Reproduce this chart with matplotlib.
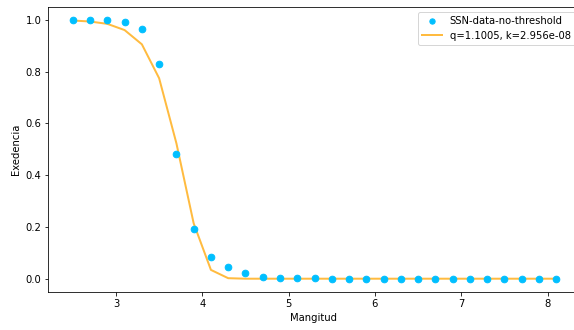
import matplotlib
matplotlib.use("Agg")
import matplotlib.pyplot as plt

# Magnitude bins
magnitudes = [2.5, 2.7, 2.9, 3.1, 3.3, 3.5, 3.7, 3.9, 4.1, 4.3, 4.5, 4.7, 4.9,
              5.1, 5.3, 5.5, 5.7, 5.9, 6.1, 6.3, 6.5, 6.7, 6.9, 7.1, 7.3,
              7.5, 7.7, 7.9, 8.1]

# Observed exceedance
exceedance = [1.000, 0.999, 0.997, 0.992, 0.964, 0.828, 0.480, 0.191, 0.085,
              0.046, 0.021, 0.008, 0.004, 0.001, 0.001, 0.000, 0.000, 0.000,
              0.000, 0.000, 0.000, 0.000, 0.000, 0.000, 0.000, 0.000, 0.000,
              0.000, 0.000]

# Fitted q-exponential curve
fitted = [0.997, 0.993, 0.984, 0.960, 0.905, 0.774, 0.523, 0.214, 0.034,
          0.002, 0.000, 0.000, 0.000, 0.000, 0.000, 0.000, 0.000, 0.000,
          0.000, 0.000, 0.000, 0.000, 0.000, 0.000, 0.000, 0.000, 0.000,
          0.000, 0.000]

data_label = "SSN-data-no-threshold"
fit_label = "q=1.1005, k=2.956e-08"

W, H = 574, 330
fig = plt.figure(figsize=(W / 72, H / 72), dpi=72)
left_px, right_px = 48.3, 579.5
ax = fig.add_axes([left_px / W, 0.1162, (right_px - left_px) / W, 0.8633])

ax.scatter(magnitudes, exceedance, s=44, color="deepskyblue", label=data_label, zorder=3)
ax.plot(magnitudes, fitted, color="orange", alpha=0.75, lw=2.0, label=fit_label, zorder=2)

ax.set_xlim(2.216, 8.37)
ax.set_ylim(-0.05, 1.05)
ax.set_xlabel("Mangitud")
ax.set_ylabel("Exedencia")
ax.legend(loc="upper right", markerscale=0.8)

fig.savefig("out.png", dpi=72)
